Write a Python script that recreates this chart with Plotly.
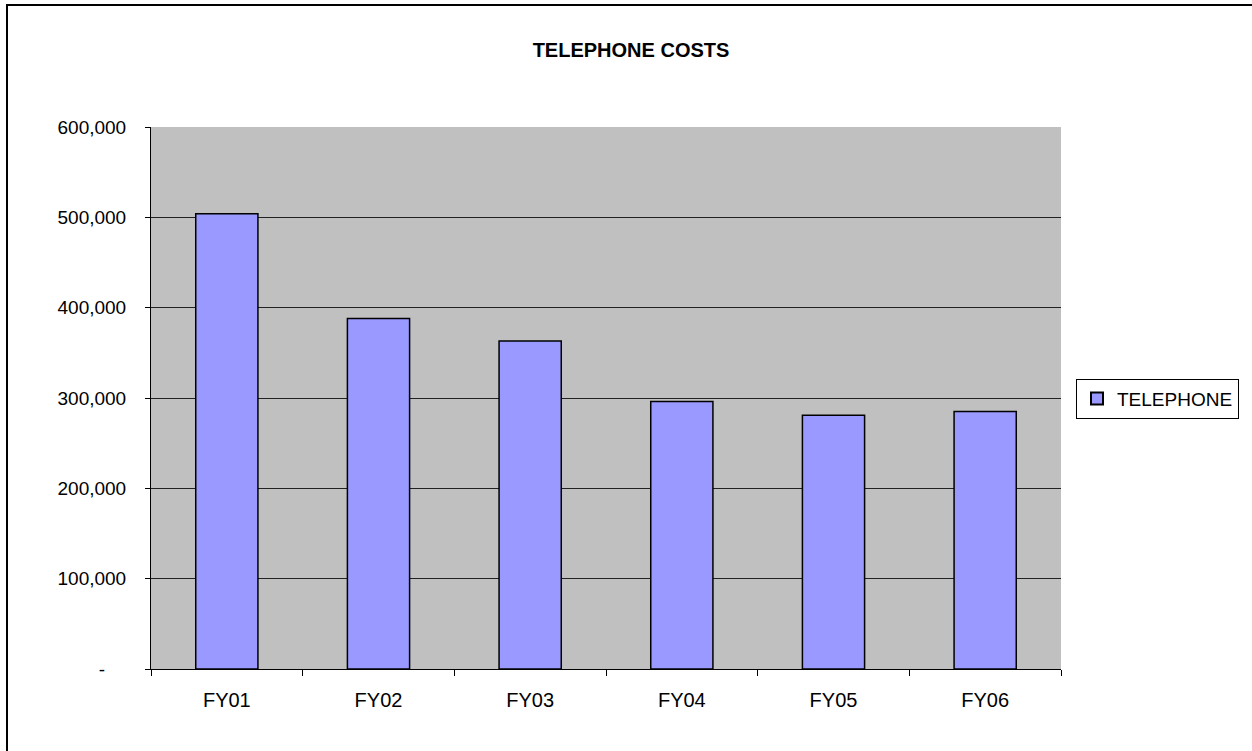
import plotly.graph_objects as go

categories = ["FY01", "FY02", "FY03", "FY04", "FY05", "FY06"]
telephone = [504000, 388000, 363000, 296000, 281000, 285000]
ytick_vals = [0, 100000, 200000, 300000, 400000, 500000, 600000]
ytick_text = ["-" + "\u00a0" * 4, "100,000", "200,000", "300,000", "400,000", "500,000", "600,000"]

W, H = 1252, 751
L, R, T, B = 151, 1061, 127, 669.5

fig = go.Figure()
fig.add_trace(go.Bar(
    x=categories, y=telephone, name="TELEPHONE",
    marker=dict(color="#9999FF", line=dict(color="black", width=1.5)),
    showlegend=True,
))

def px_to_paper_x(px):
    return (px - L) / (R - L)

def px_to_paper_y(py):
    return (B - py) / (B - T)

fig.update_layout(
    width=W, height=H,
    margin=dict(l=L, r=W - R, t=T, b=H - B, autoexpand=False),
    paper_bgcolor="white",
    plot_bgcolor="#C0C0C0",
    font=dict(family="Liberation Sans, Arial, sans-serif", size=19, color="black"),
    title=dict(text="<b>TELEPHONE COSTS</b>", x=631 / W, xref="container", xanchor="center",
               y=1 - 50 / H, yref="container", yanchor="middle",
               font=dict(size=20, family="Liberation Sans, Arial, sans-serif")),
    bargap=0.59,
    showlegend=True,
    legend=dict(x=px_to_paper_x(1076), xanchor="left", y=px_to_paper_y(379), yanchor="top",
                bordercolor="black", borderwidth=1, bgcolor="white",
                font=dict(size=19), itemsizing="constant", itemwidth=30),
    xaxis=dict(showgrid=False, ticks="outside", tickson="boundaries", ticklen=6,
               tickcolor="black", showline=True, linecolor="black", linewidth=1,
               tickfont=dict(size=20), ticklabelstandoff=13),
    yaxis=dict(range=[0, 600000], tickvals=ytick_vals, ticktext=ytick_text,
               showgrid=True, gridcolor="#222222", gridwidth=1, ticks="outside",
               ticklen=5, tickcolor="black", showline=True, linecolor="black",
               linewidth=1, zeroline=False, tickfont=dict(size=19),
               ticklabelstandoff=15),
    shapes=[dict(type="rect", xref="paper", yref="paper",
                 x0=px_to_paper_x(7), x1=px_to_paper_x(1262),
                 y0=px_to_paper_y(762), y1=px_to_paper_y(5),
                 line=dict(color="black", width=2), layer="below")],
)

fig.write_html("out.html", config={"displayModeBar": False},
               post_script="document.body.style.margin='0';document.body.style.overflow='hidden';")
